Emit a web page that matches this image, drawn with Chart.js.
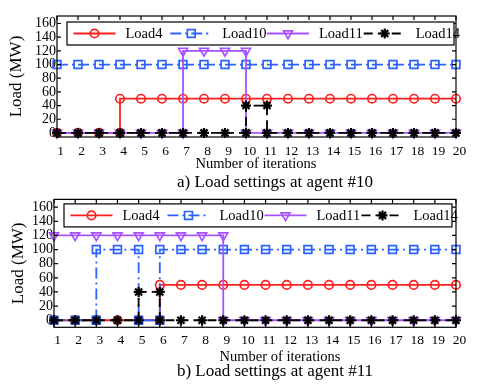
<!DOCTYPE html>
<html>
<head>
<meta charset="utf-8">
<script src="https://cdn.jsdelivr.net/npm/chart.js@4"></script>
<style>
  body { margin: 0; background: #fff; }
  .wrap { position: absolute; left: 0; width: 484px; }
  #wrapA { top: 0; height: 193px; }
  #wrapB { top: 190px; height: 197px; }
</style>
</head>
<body>
<div class="wrap" id="wrapA"><canvas id="chartA" width="484" height="193"></canvas></div>
<div class="wrap" id="wrapB"><canvas id="chartB" width="484" height="197"></canvas></div>
<script>
// Data (an entry [a, b] means a vertical jump at that iteration)
const iterations = [1, 2, 3, 4, 5, 6, 7, 8, 9, 10, 11, 12, 13, 14, 15, 16, 17, 18, 19, 20];
const yTicks = [0, 20, 40, 60, 80, 100, 120, 140, 160];
const seriesNames = ['Load4', 'Load10', 'Load11', 'Load14'];

// a) agent #10
const aLoad4  = [0, 0, 0, [0, 50], 50, 50, 50, 50, 50, 50, 50, 50, 50, 50, 50, 50, 50, 50, 50, 50];
const aLoad10 = [100, 100, 100, 100, 100, 100, 100, 100, 100, 100, 100, 100, 100, 100, 100, 100, 100, 100, 100, 100];
const aLoad11 = [0, 0, 0, 0, 0, 0, [0, 120], 120, 120, [120, 0], 0, 0, 0, 0, 0, 0, 0, 0, 0, 0];
const aLoad14 = [0, 0, 0, 0, 0, 0, 0, 0, 0, [0, 40], [40, 0], 0, 0, 0, 0, 0, 0, 0, 0, 0];

// b) agent #11
const bLoad4  = [0, 0, 0, 0, 0, [0, 50], 50, 50, 50, 50, 50, 50, 50, 50, 50, 50, 50, 50, 50, 50];
const bLoad10 = [0, 0, [0, 100], 100, [100, 0], [0, 100], 100, 100, 100, 100, 100, 100, 100, 100, 100, 100, 100, 100, 100, 100];
const bLoad11 = [120, 120, 120, 120, 120, 120, 120, 120, [120, 0], 0, 0, 0, 0, 0, 0, 0, 0, 0, 0, 0];
const bLoad14 = [0, 0, 0, 0, [0, 40], [40, 0], 0, 0, 0, 0, 0, 0, 0, 0, 0, 0, 0, 0, 0, 0];

const FONT = '"Liberation Serif", "Times New Roman", serif';

const styles = [
    { color: '#ff1f1f', dash: [], pointStyle: 'circle', radius: 4.2, rotation: 0, bw: 1.7 },
    { color: '#2a62ff', dash: [11, 4, 2, 4], pointStyle: 'rect', radius: 5.5, rotation: 0, bw: 1.7 },
    { color: '#a852ff', dash: [], pointStyle: 'triangle', radius: 5.2, rotation: 180, bw: 1.7 },
    { color: '#000000', dash: [9, 5], pointStyle: 'star', radius: 5, rotation: 0, bw: 2.2 }
];

function toPoints(vals) {
    const pts = [];
    iterations.forEach((x, i) => {
        [].concat(vals[i]).forEach(y => pts.push({ x: x, y: y }));
    });
    return pts;
}

function makeDatasets(seriesList) {
    return seriesList.map((vals, i) => ({
        label: seriesNames[i],
        data: toPoints(vals),
        borderColor: styles[i].color,
        backgroundColor: 'rgba(0,0,0,0)',
        borderWidth: 1.8,
        borderDash: styles[i].dash,
        pointStyle: styles[i].pointStyle,
        pointRadius: styles[i].radius,
        pointRotation: styles[i].rotation,
        pointBorderWidth: styles[i].bw,
        pointBorderColor: styles[i].color,
        pointBackgroundColor: 'rgba(0,0,0,0)',
        tension: 0,
        clip: false,
        order: 3 - i
    }));
}

function drawMarker(ctx, st, x, y) {
    if (Chart.helpers && Chart.helpers.drawPoint) {
        Chart.helpers.drawPoint(ctx, { pointStyle: st.pointStyle, radius: st.radius, rotation: st.rotation, borderWidth: st.bw }, x, y);
    } else {
        ctx.beginPath();
        ctx.arc(x, y, st.radius, 0, Math.PI * 2);
        ctx.stroke();
    }
}

// Box frame, inward ticks, legend and the texts under the axis
const framePlugin = {
    id: 'frame',
    afterDraw(chart) {
        const ctx = chart.ctx;
        const ca = chart.chartArea;
        const xs = chart.scales.x, ys = chart.scales.y;
        const lg = chart.options.plugins.frame;
        ctx.save();
        ctx.strokeStyle = '#000';
        ctx.lineWidth = 1.2;
        ctx.setLineDash([]);
        ctx.strokeRect(ca.left, ca.top, ca.right - ca.left, ca.bottom - ca.top);
        ctx.beginPath();
        iterations.forEach(v => {
            const px = xs.getPixelForValue(v);
            ctx.moveTo(px, ca.top); ctx.lineTo(px, ca.top + 4);
            ctx.moveTo(px, ca.bottom); ctx.lineTo(px, ca.bottom - 4);
        });
        yTicks.forEach(v => {
            const py = ys.getPixelForValue(v);
            ctx.moveTo(ca.left, py); ctx.lineTo(ca.left + 4, py);
            ctx.moveTo(ca.right, py); ctx.lineTo(ca.right - 4, py);
        });
        ctx.stroke();

        // axis title and caption
        ctx.fillStyle = '#000';
        ctx.textAlign = 'center';
        ctx.textBaseline = 'middle';
        ctx.font = '14.5px ' + FONT;
        ctx.fillText('Number of iterations', lg.xTitle[0], lg.xTitle[1]);
        ctx.font = '17px ' + FONT;
        ctx.fillText(lg.caption, lg.capPos[0], lg.capPos[1]);

        // legend
        const bx = ca.left + lg.dx, by = ca.top + lg.dy;
        const bw = ca.right - lg.dr - bx, bh = lg.h;
        ctx.fillStyle = '#fff';
        ctx.fillRect(bx, by, bw, bh);
        ctx.lineWidth = 1.2;
        ctx.strokeRect(bx, by, bw, bh);
        const cy = by + bh / 2;
        ctx.font = '14.5px ' + FONT;
        ctx.textAlign = 'left';
        seriesNames.forEach((name, i) => {
            const st = styles[i];
            const sx = bx + 6.5 + i * bw / 4;
            ctx.strokeStyle = st.color;
            ctx.lineWidth = 1.8;
            ctx.setLineDash(st.dash);
            ctx.beginPath();
            ctx.moveTo(sx, cy); ctx.lineTo(sx + 42, cy);
            ctx.stroke();
            ctx.setLineDash([]);
            ctx.lineWidth = st.bw;
            ctx.fillStyle = 'rgba(0,0,0,0)';
            drawMarker(ctx, st, sx + 21, cy);
            ctx.fillStyle = '#000';
            ctx.fillText(name, sx + 52, cy + 1);
        });
        ctx.restore();
    }
};

function makeChart(id, seriesList, opts) {
    new Chart(document.getElementById(id), {
        type: 'line',
        data: { datasets: makeDatasets(seriesList) },
        plugins: [framePlugin],
        options: {
            responsive: false,
            animation: false,
            events: [],
            layout: { padding: { top: opts.padTop, right: 28, bottom: 0, left: 0 } },
            plugins: {
                legend: { display: false },
                tooltip: { enabled: false },
                frame: opts.legend
            },
            scales: {
                x: {
                    type: 'linear',
                    min: 1,
                    max: 20,
                    afterBuildTicks: s => { s.ticks = iterations.map(v => ({ value: v })); },
                    afterFit: s => { s.height = opts.xHeight; },
                    grid: { display: false, drawTicks: false },
                    border: { display: false },
                    ticks: {
                        color: '#000',
                        padding: opts.xPad,
                        labelOffset: 3.5,
                        maxRotation: 0,
                        autoSkip: false,
                        font: { family: FONT, size: 13.5 }
                    }
                },
                y: {
                    min: opts.yMin,
                    max: 171,
                    afterBuildTicks: s => { s.ticks = yTicks.map(v => ({ value: v })); },
                    afterFit: s => { s.width = opts.yWidth; },
                    grid: { display: false, drawTicks: false },
                    border: { display: false },
                    ticks: {
                        color: '#000',
                        padding: 1,
                        autoSkip: false,
                        font: { family: FONT, size: 14 }
                    },
                    title: {
                        display: true,
                        text: 'Load (MW)',
                        color: '#000',
                        font: { family: FONT, size: 17 },
                        padding: { top: opts.yTitlePad, bottom: 0 }
                    }
                }
            }
        }
    });
}

makeChart('chartA', [aLoad4, aLoad10, aLoad11, aLoad14], {
    padTop: 16, xHeight: 56, xPad: 6.6,
    yMin: -6, yWidth: 57, yTitlePad: 6,
    legend: { dx: 10, dy: 6, dr: 2, h: 23, caption: 'a) Load settings at agent #10',
              xTitle: [256, 164], capPos: [275, 182.5] }
});

makeChart('chartB', [bLoad4, bLoad10, bLoad11, bLoad14], {
    padTop: 7, xHeight: 59.7, xPad: 5,
    yMin: -10, yWidth: 54, yTitlePad: 8,
    legend: { dx: 10, dy: 4.5, dr: 4, h: 23, caption: 'b) Load settings at agent #11',
              xTitle: [280, 167.5], capPos: [275, 182] }
});
</script>
</body>
</html>
